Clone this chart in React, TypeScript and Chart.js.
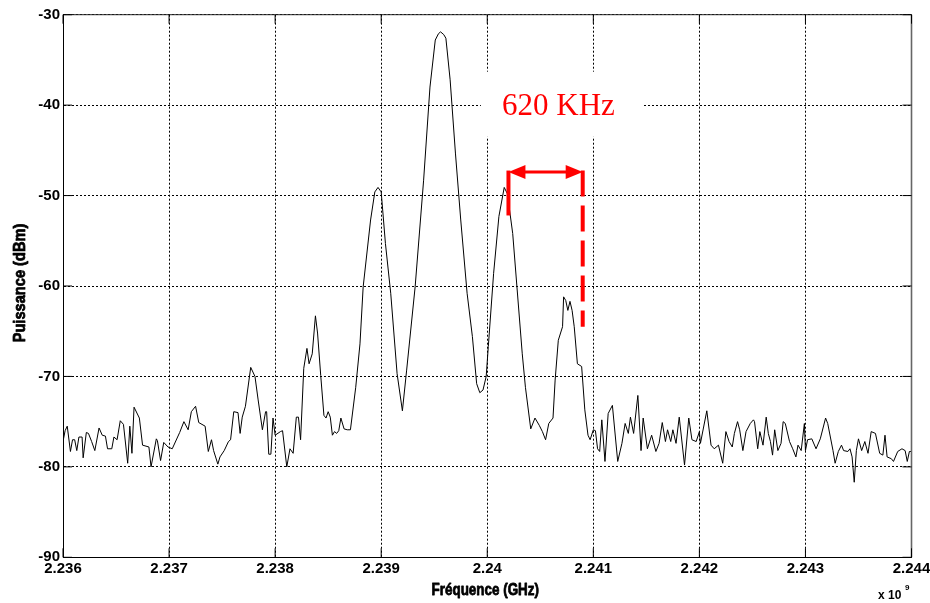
import React, { useEffect, useRef } from 'react';
import { Chart, registerables } from 'chart.js';

Chart.register(...registerables);

// ---------- data ----------
const xTicks = [2.236, 2.237, 2.238, 2.239, 2.24, 2.241, 2.242, 2.243, 2.244];
const yTicks = [-90, -80, -70, -60, -50, -40, -30];

const freqGHz = [
  2.23600, 2.23602, 2.23604, 2.23607, 2.23609, 2.23611, 2.23613, 2.23615, 2.23618, 2.23619,
  2.23622, 2.23624, 2.23627, 2.23630, 2.23634, 2.23637, 2.23640, 2.23642, 2.23646, 2.23648,
  2.23651, 2.23654, 2.23657, 2.23661, 2.23663, 2.23665, 2.23667, 2.23672, 2.23675, 2.23681,
  2.23683, 2.23688, 2.23689, 2.23692, 2.23695, 2.23699, 2.23703, 2.23710, 2.23714, 2.23718,
  2.23721, 2.23725, 2.23728, 2.23734, 2.23737, 2.23740, 2.23742, 2.23746, 2.23748, 2.23752,
  2.23756, 2.23758, 2.23761, 2.23765, 2.23767, 2.23769, 2.23772, 2.23777, 2.23781, 2.23784,
  2.23788, 2.23791, 2.23792, 2.23794, 2.23796, 2.23798, 2.23800, 2.23805, 2.23807, 2.23811,
  2.23814, 2.23817, 2.23820, 2.23822, 2.23824, 2.23827, 2.23830, 2.23832, 2.23835, 2.23838,
  2.23840, 2.23843, 2.23846, 2.23848, 2.23850, 2.23852, 2.23854, 2.23856, 2.23858, 2.23860,
  2.23862, 2.23865, 2.23868, 2.23871, 2.23876, 2.23880, 2.23883, 2.23890, 2.23894, 2.23897,
  2.23900, 2.23904, 2.23909, 2.23915, 2.23920, 2.23924, 2.23932, 2.23940, 2.23946, 2.23951,
  2.23954, 2.23956, 2.23959, 2.23961, 2.23965, 2.23970, 2.23975, 2.23981, 2.23986, 2.23990,
  2.23993, 2.23996, 2.23999, 2.24001, 2.24006, 2.24011, 2.24016, 2.24019, 2.24024, 2.24028,
  2.24033, 2.24036, 2.24041, 2.24045, 2.24049, 2.24052, 2.24055, 2.24058, 2.24062, 2.24064,
  2.24067, 2.24071, 2.24072, 2.24074, 2.24076, 2.24078, 2.24080, 2.24082, 2.24085, 2.24089,
  2.24092, 2.24095, 2.24097, 2.24100, 2.24102, 2.24104, 2.24106, 2.24108, 2.24111, 2.24114,
  2.24118, 2.24123, 2.24127, 2.24130, 2.24133, 2.24135, 2.24138, 2.24142, 2.24145, 2.24147,
  2.24151, 2.24155, 2.24159, 2.24162, 2.24165, 2.24168, 2.24170, 2.24173, 2.24175, 2.24178,
  2.24181, 2.24186, 2.24190, 2.24193, 2.24197, 2.24200, 2.24201, 2.24207, 2.24211, 2.24214,
  2.24218, 2.24222, 2.24225, 2.24228, 2.24231, 2.24233, 2.24236, 2.24238, 2.24241, 2.24244,
  2.24248, 2.24251, 2.24252, 2.24255, 2.24257, 2.24260, 2.24263, 2.24265, 2.24267, 2.24269,
  2.24271, 2.24274, 2.24277, 2.24279, 2.24281, 2.24285, 2.24288, 2.24291, 2.24293, 2.24296,
  2.24299, 2.24300, 2.24302, 2.24306, 2.24310, 2.24314, 2.24319, 2.24321, 2.24326, 2.24328,
  2.24331, 2.24334, 2.24336, 2.24340, 2.24342, 2.24344, 2.24346, 2.24348, 2.24350, 2.24353,
  2.24356, 2.24359, 2.24362, 2.24366, 2.24370, 2.24373, 2.24375, 2.24377, 2.24381, 2.24383,
  2.24387, 2.24391, 2.24394, 2.24396, 2.24398, 2.24400,
];

const powerDbm = [
  -77.2, -76.0, -75.5, -78.3, -77.0, -77.0, -78.2, -76.7, -76.7, -79.0,
  -76.2, -76.3, -77.2, -78.2, -75.7, -76.5, -76.6, -78.0, -78.0, -76.7,
  -77.0, -74.9, -75.3, -79.6, -75.5, -78.5, -73.4, -74.6, -77.6, -77.8,
  -80.0, -76.9, -77.1, -79.3, -77.3, -77.8, -78.0, -76.2, -75.0, -75.9,
  -73.9, -73.3, -75.1, -75.5, -78.3, -77.0, -78.2, -79.7, -78.9, -78.2,
  -77.2, -77.0, -73.9, -74.0, -76.3, -74.5, -73.3, -69.0, -70.0, -72.6,
  -75.9, -73.9, -73.9, -78.6, -78.6, -74.6, -76.5, -76.1, -76.0, -80.0,
  -78.0, -78.5, -74.5, -74.5, -77.0, -69.1, -66.9, -68.6, -67.5, -63.3,
  -65.2, -69.9, -74.3, -74.6, -73.9, -74.5, -76.5, -76.1, -76.3, -76.0,
  -74.6, -75.8, -75.9, -75.9, -71.2, -66.4, -60.1, -52.7, -49.6, -49.1,
  -49.6, -55.3, -60.8, -69.7, -73.8, -69.3, -60.1, -48.3, -38.0, -32.8,
  -32.1, -31.9, -32.2, -32.6, -37.2, -45.3, -52.7, -60.8, -65.6, -70.8,
  -71.8, -71.5, -70.0, -66.7, -58.6, -52.3, -49.1, -49.8, -54.2, -60.1,
  -67.5, -71.2, -75.8, -74.6, -75.4, -76.1, -77.0, -75.2, -74.6, -70.4,
  -66.0, -64.5, -61.2, -61.6, -62.7, -61.7, -62.7, -64.5, -68.6, -68.9,
  -73.7, -76.5, -77.0, -75.9, -76.0, -78.0, -78.3, -74.8, -79.4, -74.1,
  -73.2, -79.4, -77.4, -75.2, -76.3, -74.5, -76.3, -72.1, -78.2, -74.6,
  -78.0, -76.5, -78.3, -77.4, -75.1, -77.2, -75.9, -77.2, -75.9, -77.4,
  -74.5, -79.8, -74.6, -77.0, -77.2, -76.1, -77.4, -73.8, -77.6, -78.0,
  -77.6, -79.6, -76.1, -77.2, -77.8, -76.3, -75.0, -75.9, -78.2, -76.1,
  -75.2, -74.8, -75.0, -78.0, -76.1, -77.6, -74.5, -76.3, -77.2, -78.7,
  -75.9, -78.2, -77.4, -75.0, -75.2, -77.2, -78.0, -78.9, -77.6, -78.2,
  -75.2, -78.2, -77.0, -76.9, -78.0, -76.9, -74.6, -75.2, -78.2, -79.6,
  -78.3, -77.6, -78.2, -78.3, -78.0, -78.9, -81.7, -78.2, -76.9, -78.2,
  -77.2, -78.5, -76.1, -76.3, -78.5, -78.7, -76.5, -78.9, -79.1, -79.4,
  -78.3, -78.0, -78.2, -79.4, -78.3, -78.3,
];

// ---------- annotation (in data units) ----------
const spacingLabel = '620 KHz';
const labelFreq = 2.24014;
const labelLevel = -41.1;
const labelBoxFreqs = [2.23994, 2.24146];
const labelBoxLevels = [-36.3, -43.5];
const arrowFreqs = [2.24020, 2.24090];
const arrowLevel = -47.4;
const leftMarkerBottom = -52.2;
const rightMarkerBottom = -64.5;

const xTitle = 'Fréquence (GHz)';
const yTitle = 'Puissance (dBm)';

const tickFont = { family: '"Liberation Sans", Arial, sans-serif', size: 15, weight: 'bold' as const };
const titleFontCss = 'bold 17px "Liberation Sans", Arial, sans-serif';

const fmtTick = (v: number) => String(parseFloat(Number(v).toFixed(3)));

const decorPlugin = {
  id: 'decor',
  beforeDatasetsDraw(chart: any) {
    const { ctx, scales } = chart;
    const x = scales.x, y = scales.y;
    ctx.save();
    // white label box hiding grid
    const bx0 = x.getPixelForValue(labelBoxFreqs[0]);
    const bx1 = x.getPixelForValue(labelBoxFreqs[1]);
    const by0 = y.getPixelForValue(labelBoxLevels[0]);
    const by1 = y.getPixelForValue(labelBoxLevels[1]);
    ctx.fillStyle = '#ffffff';
    ctx.fillRect(bx0, by0, bx1 - bx0, by1 - by0);
    ctx.fillStyle = '#ff0000';
    ctx.font = '31px "Liberation Serif", "Times New Roman", serif';
    ctx.textBaseline = 'alphabetic';
    ctx.textAlign = 'left';
    ctx.fillText(spacingLabel, x.getPixelForValue(labelFreq), y.getPixelForValue(labelLevel));
    ctx.restore();
  },
  afterDatasetsDraw(chart: any) {
    const { ctx, chartArea, scales } = chart;
    const x = scales.x, y = scales.y;
    const { left, right, top, bottom } = chartArea;
    ctx.save();
    // frame
    ctx.lineWidth = 1;
    ctx.strokeStyle = '#222';
    ctx.beginPath();
    ctx.moveTo(left, top);
    ctx.lineTo(right, top);
    ctx.stroke();
    ctx.strokeStyle = '#666';
    ctx.lineWidth = 1.6;
    ctx.beginPath();
    ctx.moveTo(right, top);
    ctx.lineTo(right, bottom);
    ctx.stroke();
    // inward tick marks
    const tl = 9;
    ctx.strokeStyle = '#000';
    ctx.lineWidth = 1;
    ctx.beginPath();
    xTicks.forEach((v) => {
      const px = x.getPixelForValue(v);
      ctx.moveTo(px, bottom);
      ctx.lineTo(px, bottom - tl);
      ctx.moveTo(px, top);
      ctx.lineTo(px, top + tl);
    });
    yTicks.forEach((v) => {
      const py = y.getPixelForValue(v);
      ctx.moveTo(left, py);
      ctx.lineTo(left + tl, py);
      ctx.moveTo(right, py);
      ctx.lineTo(right - tl, py);
    });
    ctx.stroke();

    // red spacing annotation
    const xa0 = x.getPixelForValue(arrowFreqs[0]);
    const xa1 = x.getPixelForValue(arrowFreqs[1]);
    const ya = y.getPixelForValue(arrowLevel);
    ctx.strokeStyle = '#ff0000';
    ctx.fillStyle = '#ff0000';
    ctx.lineWidth = 3;
    ctx.beginPath();
    ctx.moveTo(xa0 + 10, ya);
    ctx.lineTo(xa1 - 10, ya);
    ctx.stroke();
    const head = 17, half = 7;
    ctx.beginPath();
    ctx.moveTo(xa0, ya);
    ctx.lineTo(xa0 + head, ya - half);
    ctx.lineTo(xa0 + head, ya + half);
    ctx.closePath();
    ctx.fill();
    ctx.beginPath();
    ctx.moveTo(xa1, ya);
    ctx.lineTo(xa1 - head, ya - half);
    ctx.lineTo(xa1 - head, ya + half);
    ctx.closePath();
    ctx.fill();
    ctx.lineWidth = 4;
    ctx.beginPath();
    ctx.moveTo(xa0, ya - 1.5);
    ctx.lineTo(xa0, y.getPixelForValue(leftMarkerBottom));
    ctx.stroke();
    ctx.setLineDash([26, 9]);
    ctx.beginPath();
    ctx.moveTo(xa1, ya - 1.5);
    ctx.lineTo(xa1, y.getPixelForValue(rightMarkerBottom));
    ctx.stroke();
    ctx.restore();
  },
  afterDraw(chart: any) {
    const { ctx, chartArea } = chart;
    ctx.save();
    ctx.fillStyle = '#000';
    ctx.strokeStyle = '#000';
    ctx.lineWidth = 0.8;
    ctx.lineJoin = 'round';
    ctx.textBaseline = 'alphabetic';
    ctx.textAlign = 'center';
    // axis titles (condensed heavy)
    ctx.font = titleFontCss;
    ctx.save();
    ctx.translate((chartArea.left + chartArea.right) / 2 - 2, 595);
    ctx.scale(0.79, 1);
    ctx.fillText(xTitle, 0, 0);
    ctx.strokeText(xTitle, 0, 0);
    ctx.restore();
    ctx.save();
    ctx.translate(25, (chartArea.top + chartArea.bottom) / 2 - 3);
    ctx.rotate(-Math.PI / 2);
    ctx.scale(0.86, 1);
    ctx.fillText(yTitle, 0, 0);
    ctx.strokeText(yTitle, 0, 0);
    ctx.restore();
    // exponent
    ctx.textAlign = 'left';
    ctx.font = 'bold 12px "Liberation Sans", Arial, sans-serif';
    ctx.fillText('x 10', 878, 599);
    ctx.font = 'bold 8px "Liberation Sans", Arial, sans-serif';
    ctx.fillText('9', 905, 590);
    ctx.restore();
  },
};

export default function App() {
  const canvasRef = useRef<HTMLCanvasElement | null>(null);

  useEffect(() => {
    const canvas = canvasRef.current;
    if (!canvas) return;
    const points = freqGHz.map((f, i) => ({ x: f, y: powerDbm[i] }));
    const chart = new Chart(canvas, {
      type: 'line',
      data: {
        datasets: [
          {
            data: points,
            borderColor: '#000',
            borderWidth: 1,
            pointRadius: 0,
            tension: 0,
            fill: false,
          },
        ],
      },
      options: {
        animation: false,
        responsive: false,
        devicePixelRatio: 1,
        layout: { padding: { left: 0, top: 14.7, right: 18.5, bottom: 0 } },
        plugins: { legend: { display: false }, tooltip: { enabled: false } },
        scales: {
          x: {
            type: 'linear',
            min: 2.236,
            max: 2.244,
            afterBuildTicks: (s: any) => {
              s.ticks = xTicks.map((v) => ({ value: v }));
            },
            afterFit: (s: any) => {
              s.height = 45.7;
              s.paddingLeft = 0;
              s.paddingRight = 0;
            },
            ticks: {
              callback: (v: any) => fmtTick(v),
              font: tickFont,
              color: '#000',
              padding: 3,
              maxRotation: 0,
              autoSkip: false,
            },
            grid: { color: '#000', lineWidth: 1, drawTicks: false },
            border: { display: true, color: '#000', width: 1, dash: [2, 2] },
            title: { display: false },
          },
          y: {
            type: 'linear',
            min: -90,
            max: -30,
            afterBuildTicks: (s: any) => {
              s.ticks = yTicks.map((v) => ({ value: v }));
            },
            afterFit: (s: any) => {
              s.width = 63;
            },
            ticks: {
              callback: (v: any) => String(v),
              font: tickFont,
              color: '#000',
              padding: 3,
            },
            grid: { color: '#000', lineWidth: 1, drawTicks: false },
            border: { display: true, color: '#000', width: 1, dash: [2, 2] },
            title: { display: false },
          },
        },
      },
      plugins: [decorPlugin],
    });
    return () => chart.destroy();
  }, []);

  return (
    <div style={{ position: 'fixed', left: 0, top: 0, width: 930, height: 603, background: '#fff' }}>
      <canvas ref={canvasRef} width={930} height={603} style={{ display: 'block' }} />
    </div>
  );
}
